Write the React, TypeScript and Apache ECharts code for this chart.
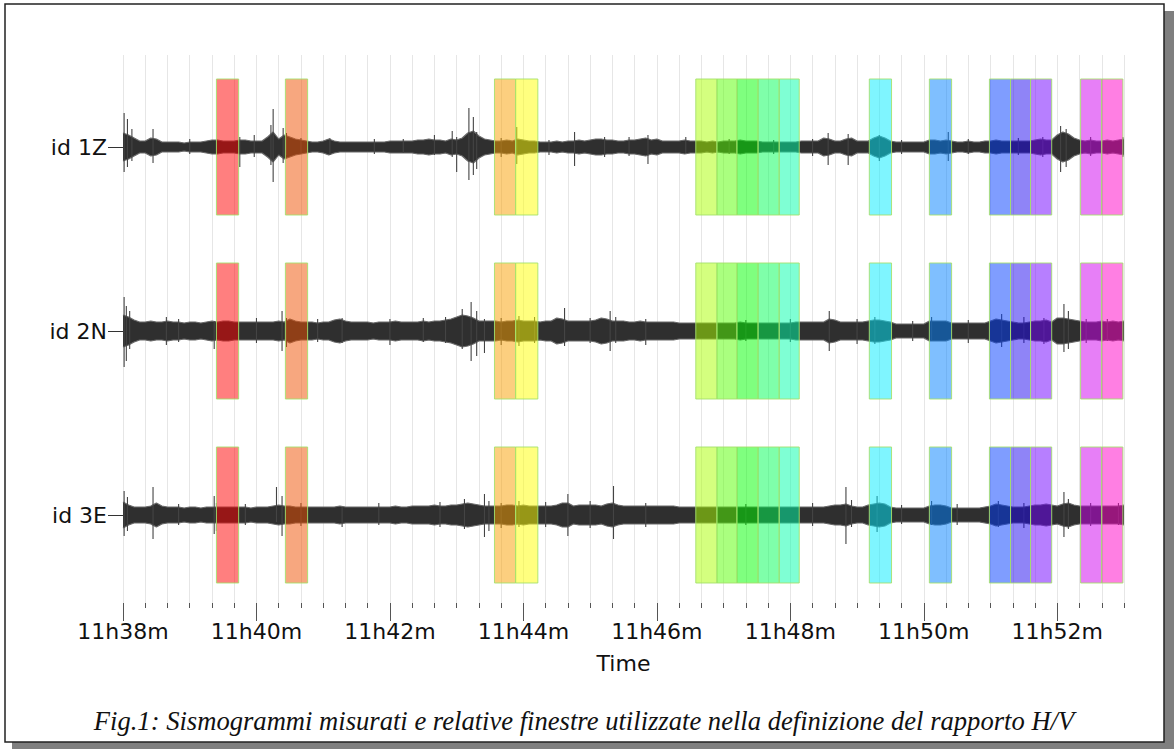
import { useEffect, useRef } from 'react';
import * as echarts from 'echarts';

// ---- data ----
const STEP = 5; // seconds between envelope samples, starting at 11h38m00s
const TRACE_NAMES = ['id 1Z', 'id 2N', 'id 3E'];
const TICK_LABELS = ['11h38m', '11h40m', '11h42m', '11h44m', '11h46m', '11h48m', '11h50m', '11h52m'];
const MAJOR_TICKS = [0, 120, 240, 360, 480, 600, 720, 840];

// half-width of the noise band of each trace (amplitude units)
const ENV_1Z = [
  14, 12, 9, 6, 6, 9, 8, 5, 5, 5, 5, 4, 5, 5, 5, 6, 7, 7, 6, 6,
  6, 7, 7, 6, 6, 6, 10, 15, 8, 12, 10, 8, 7, 6, 5, 5, 6, 8, 6, 5,
  5, 5, 5, 5, 5, 5, 5, 5, 6, 6, 6, 6, 6, 7, 7, 8, 7, 7, 6, 8,
  7, 9, 14, 16, 11, 8, 7, 6, 6, 7, 6, 8, 7, 6, 6, 5, 5, 5, 6, 5,
  6, 6, 7, 6, 7, 8, 8, 7, 7, 6, 6, 7, 7, 8, 9, 7, 8, 6, 6, 6,
  6, 7, 6, 6, 6, 5, 6, 5, 6, 6, 6, 7, 6, 6, 6, 5, 5, 5, 5, 5,
  5, 5, 6, 6, 6, 6, 9, 8, 6, 6, 8, 9, 6, 6, 6, 9, 11, 9, 6, 5,
  5, 5, 5, 5, 5, 7, 7, 6, 7, 6, 5, 5, 6, 5, 5, 6, 6, 7, 6, 6,
  6, 6, 6, 6, 7, 8, 7, 7, 12, 15, 13, 9, 7, 6, 7, 6, 6, 7, 6, 7,
  8,
];
const ENV_2N = [
  16, 14, 11, 9, 9, 10, 9, 9, 10, 9, 9, 8, 9, 9, 8, 9, 10, 9, 10, 10,
  9, 9, 9, 9, 9, 9, 9, 9, 10, 9, 12, 10, 9, 9, 9, 8, 9, 9, 11, 12,
  10, 9, 9, 9, 9, 8, 9, 9, 9, 10, 9, 9, 9, 9, 10, 9, 10, 10, 11, 12,
  14, 16, 15, 13, 10, 10, 10, 10, 9, 10, 10, 11, 10, 10, 10, 9, 10, 10, 13, 12,
  10, 10, 10, 10, 10, 11, 13, 12, 10, 10, 10, 9, 9, 10, 9, 9, 9, 9, 9, 9,
  8, 8, 8, 8, 8, 8, 8, 8, 8, 8, 8, 9, 8, 8, 8, 8, 8, 8, 8, 8,
  8, 9, 9, 9, 9, 9, 9, 12, 11, 9, 9, 9, 9, 9, 10, 11, 11, 10, 9, 7,
  7, 7, 7, 7, 7, 10, 10, 10, 10, 8, 8, 8, 8, 8, 8, 8, 10, 12, 11, 10,
  9, 8, 8, 9, 10, 10, 11, 9, 13, 13, 12, 11, 10, 9, 9, 9, 10, 9, 10, 9,
  10,
];
const ENV_3E = [
  13, 10, 8, 8, 8, 9, 12, 9, 8, 8, 8, 7, 8, 8, 7, 8, 8, 8, 8, 8,
  8, 8, 8, 7, 8, 8, 8, 9, 10, 9, 9, 8, 8, 8, 8, 8, 8, 8, 8, 9,
  8, 8, 8, 8, 8, 8, 8, 8, 8, 9, 8, 8, 9, 9, 9, 9, 10, 9, 9, 10,
  10, 11, 12, 11, 10, 9, 9, 9, 9, 10, 10, 9, 10, 9, 9, 9, 9, 9, 10, 12,
  12, 9, 10, 10, 10, 10, 9, 11, 12, 10, 9, 9, 9, 9, 9, 9, 9, 9, 9, 9,
  8, 8, 8, 8, 8, 8, 8, 8, 8, 8, 8, 8, 8, 8, 8, 8, 8, 8, 8, 8,
  8, 8, 8, 8, 8, 8, 8, 9, 10, 10, 11, 9, 8, 8, 10, 11, 12, 11, 8, 7,
  7, 7, 7, 7, 7, 9, 10, 10, 9, 7, 7, 7, 7, 7, 7, 8, 9, 11, 10, 9,
  8, 8, 8, 9, 10, 10, 11, 10, 9, 11, 12, 10, 9, 9, 9, 9, 9, 9, 9, 9,
  10,
];

// isolated peaks: [time s, up, down]
const SPIKES_1Z = [
  [1, 34, 25], [4, 28, 20], [8, 18, 14], [27, 18, 16], [60, 8, 7], [105, 10, 20], [118, 12, 10],
  [133, 22, 18], [135, 38, 35], [144, 19, 16], [147, 14, 8], [160, 9, 7], [186, 9, 8],
  [226, 8, 7], [252, 8, 6], [280, 12, 8], [296, 16, 10], [300, 10, 25], [311, 39, 33],
  [315, 30, 28], [318, 15, 22], [340, 9, 10], [354, 20, 17], [383, 7, 8], [406, 15, 19],
  [433, 10, 10], [455, 10, 9], [472, 12, 17], [506, 10, 6], [545, 8, 7], [585, 7, 7],
  [620, 8, 9], [634, 14, 18], [652, 13, 18], [680, 12, 14], [700, 7, 7], [742, 15, 14],
  [760, 8, 7], [805, 9, 8], [827, 10, 10], [843, 21, 25], [848, 18, 20], [870, 10, 9], [899, 10, 10],
];
const SPIKES_2N = [
  [1, 34, 36], [3, 25, 30], [6, 20, 18], [39, 14, 14], [50, 12, 11], [82, 10, 18], [120, 13, 12],
  [143, 20, 20], [147, 13, 16], [175, 12, 11], [197, 13, 12], [240, 12, 14], [270, 13, 11],
  [290, 14, 12], [305, 22, 18], [313, 29, 30], [318, 20, 25], [325, 12, 22], [340, 13, 14],
  [356, 15, 15], [370, 14, 12], [397, 23, 15], [420, 13, 12], [438, 20, 20], [443, 14, 12],
  [470, 12, 14], [560, 11, 10], [600, 12, 11], [635, 20, 20], [660, 12, 13], [676, 14, 13],
  [710, 10, 10], [727, 14, 9], [760, 11, 12], [790, 17, 16], [810, 14, 12], [828, 13, 13],
  [846, 27, 21], [850, 20, 18], [866, 12, 12], [885, 12, 10],
];
const SPIKES_3E = [
  [1, 24, 21], [4, 18, 16], [27, 28, 24], [50, 11, 10], [82, 19, 19], [84, 12, 16], [110, 11, 10],
  [138, 28, 7], [143, 19, 21], [160, 12, 11], [197, 8, 12], [230, 12, 10], [285, 13, 12],
  [307, 16, 14], [325, 21, 22], [329, 14, 16], [340, 12, 13], [356, 14, 12], [380, 13, 12],
  [400, 21, 21], [420, 14, 13], [441, 29, 24], [470, 12, 12], [560, 11, 10], [620, 12, 11],
  [650, 28, 29], [655, 15, 12], [678, 19, 17], [700, 10, 9], [727, 14, 10], [750, 11, 10],
  [787, 14, 12], [810, 12, 13], [846, 23, 22], [850, 16, 14], [870, 12, 11], [895, 12, 10],
];

// selected H/V windows (seconds from 11h38m)
const WIN_START = [84, 146, 334, 353, 515, 534, 552, 571, 590, 671, 725, 779, 798, 816, 861, 880];
const WIN_END = [104, 166, 353, 373, 534, 552, 571, 590, 608, 691, 745, 798, 816, 835, 880, 899];
const WIN_COLORS = [
  'rgba(255,0,0,0.5)', 'rgba(240,80,0,0.5)', 'rgba(250,160,0,0.5)', 'rgba(255,255,0,0.5)',
  'rgba(170,255,0,0.5)', 'rgba(85,255,0,0.5)', 'rgba(0,255,0,0.5)', 'rgba(0,255,85,0.5)',
  'rgba(0,255,170,0.5)', 'rgba(0,235,255,0.5)', 'rgba(0,128,255,0.5)', 'rgba(0,60,255,0.5)',
  'rgba(32,10,240,0.5)', 'rgba(112,0,255,0.5)', 'rgba(208,0,240,0.5)', 'rgba(255,0,200,0.5)',
];

const ENVS = [ENV_1Z, ENV_2N, ENV_3E];
const SPIKES = [SPIKES_1Z, SPIKES_2N, SPIKES_3E];

const FONT = '"DejaVu Sans", Verdana, sans-serif';
const AMP = 92;
const WIN_HALF = 68;

export default function App() {
  const ref = useRef<HTMLDivElement>(null);
  useEffect(() => {
    if (!ref.current) return;
    const chart = echarts.init(ref.current, null, { renderer: 'svg' });

    const gridTops = [55, 239, 423];
    const grids: any[] = [{ left: 123, width: 1001, top: 55, height: 548 }];
    gridTops.forEach((t) => grids.push({ left: 123, width: 1001, top: t, height: 184 }));

    const xAxes: any[] = [
      {
        gridIndex: 0, type: 'value', min: 0, max: 900, interval: 20, position: 'bottom', offset: 5,
        axisLine: { show: false },
        axisTick: { show: true, length: 5, lineStyle: { color: '#555' } },
        splitLine: { show: true, lineStyle: { color: '#e6e6e6', width: 1 } },
        axisLabel: {
          customValues: MAJOR_TICKS,
          formatter: (v: number) => { const i = MAJOR_TICKS.indexOf(v); return i >= 0 ? TICK_LABELS[i] : ''; },
          fontSize: 22, color: '#111', fontFamily: FONT, margin: 12,
        },
        name: 'Time', nameLocation: 'middle', nameGap: 44,
        nameTextStyle: { fontSize: 22, color: '#111', fontFamily: FONT },
      },
      {
        gridIndex: 0, type: 'value', min: 0, max: 900, interval: 120, position: 'bottom', offset: 5,
        axisLine: { show: false },
        axisTick: { show: true, customValues: MAJOR_TICKS, length: 13, lineStyle: { color: '#555' } },
        splitLine: { show: false },
        axisLabel: { show: false },
      },
    ];
    const yAxes: any[] = [{ gridIndex: 0, type: 'value', min: 0, max: 1, show: false }];
    TRACE_NAMES.forEach((name, k) => {
      xAxes.push({ gridIndex: k + 1, type: 'value', min: 0, max: 900, show: false });
      yAxes.push({
        gridIndex: k + 1, type: 'value', min: -AMP, max: AMP, interval: AMP,
        axisLine: { show: false },
        splitLine: { show: false },
        axisTick: { show: true, customValues: [0], length: 15, lineStyle: { color: '#333' } },
        axisLabel: {
          customValues: [0], formatter: () => name, margin: 16,
          fontSize: 22, color: '#111', fontFamily: FONT,
        },
      });
    });

    const series: any[] = [];
    ENVS.forEach((env, k) => {
      const upper = env.map((a, i) => [i * STEP, a]);
      const lower = env.map((a, i) => [i * STEP, -a]);
      [upper, lower].forEach((d) => {
        series.push({
          type: 'line', xAxisIndex: k + 2, yAxisIndex: k + 1, data: d, symbol: 'none',
          lineStyle: { color: '#6a6a6a', width: 1.2 }, areaStyle: { color: '#2f2f2f', opacity: 1 },
          z: 2, silent: true,
        });
      });
      series.push({
        type: 'custom', xAxisIndex: k + 2, yAxisIndex: k + 1, data: SPIKES[k], z: 3, silent: true,
        renderItem: (_p: any, api: any) => {
          const t = api.value(0);
          const a = api.coord([t, api.value(1)]);
          const b = api.coord([t, -api.value(2)]);
          return {
            type: 'line', shape: { x1: a[0], y1: a[1], x2: b[0], y2: b[1] },
            style: { stroke: '#444', lineWidth: 1.1 },
          };
        },
      });
      series.push({
        type: 'custom', xAxisIndex: k + 2, yAxisIndex: k + 1, z: 5, silent: true,
        data: WIN_START.map((s, i) => [s, WIN_END[i], i]),
        renderItem: (_p: any, api: any) => {
          const p0 = api.coord([api.value(0), WIN_HALF]);
          const p1 = api.coord([api.value(1), -WIN_HALF]);
          return {
            type: 'rect',
            shape: { x: p0[0], y: p0[1], width: p1[0] - p0[0], height: p1[1] - p0[1] },
            style: { fill: WIN_COLORS[api.value(2)], stroke: 'rgba(165,225,110,0.9)', lineWidth: 1 },
          };
        },
      });
    });

    chart.setOption({
      animation: false,
      backgroundColor: '#ffffff',
      grid: grids,
      xAxis: xAxes,
      yAxis: yAxes,
      series,
      graphic: [
        { type: 'rect', z: -10, shape: { x: 12, y: 11, width: 1162, height: 738 }, style: { fill: '#7f7f7f' } },
        { type: 'rect', z: -9, shape: { x: 5, y: 4, width: 1159, height: 738 }, style: { fill: '#ffffff', stroke: '#222', lineWidth: 1.5 } },
        {
          type: 'text', z: 10, x: 584, y: 721,
          style: {
            text: 'Fig.1: Sismogrammi misurati e relative finestre utilizzate nella definizione del rapporto H/V',
            font: 'italic 26.6px "Liberation Serif", "Times New Roman", serif',
            fill: '#111', align: 'center', verticalAlign: 'middle',
          },
        },
      ],
    });
    return () => chart.dispose();
  }, []);
  return <div ref={ref} style={{ position: 'absolute', left: 0, top: 0, width: 1174, height: 749 }} />;
}
